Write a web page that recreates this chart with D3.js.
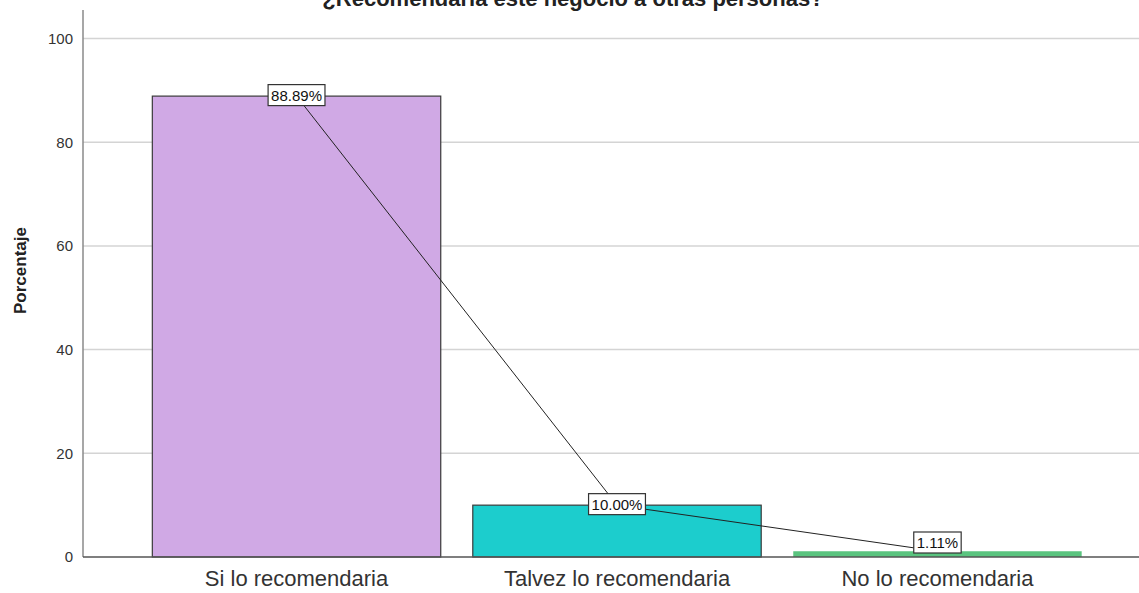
<!DOCTYPE html>
<html>
<head>
<meta charset="utf-8">
<script src="https://cdn.jsdelivr.net/npm/d3@7"></script>
<style>
  html, body { margin: 0; padding: 0; background: #fff; }
  svg { display: block; font-family: Arial, "Liberation Sans", sans-serif; }
</style>
</head>
<body>
<svg id="chart" width="1139" height="593"></svg>
<script>
// Survey answers and their share of respondents (%)
const categories = ["Si lo recomendaria", "Talvez lo recomendaria", "No lo recomendaria"];
const percentages = [88.89, 10.00, 1.11];
const barColors = ["#d0a9e5", "#1ccdcd", "#5ac47f"];
const yTicks = [0, 20, 40, 60, 80, 100];
const chartTitle = "¿Recomendaría este negocio a otras personas?";
const yTitle = "Porcentaje";

const svg = d3.select("#chart");
const plot = { left: 83, right: 1139, top: 10, bottom: 557 };

const x = d3.scaleBand()
  .domain(categories)
  .range([136.3, 1097.7])
  .paddingInner(0.1)
  .paddingOuter(0.05);

const y = d3.scaleLinear()
  .domain([0, 100])
  .range([plot.bottom, 38.5]);

// Title, sitting against the top edge of the canvas
svg.append("text")
  .attr("x", 573)
  .attr("y", 5.5)
  .attr("text-anchor", "middle")
  .attr("font-weight", "bold")
  .attr("font-size", 22)
  .attr("fill", "#222")
  .text(chartTitle);

// Horizontal gridlines
svg.append("g")
  .selectAll("line")
  .data(yTicks.filter(d => d > 0))
  .join("line")
  .attr("x1", plot.left)
  .attr("x2", plot.right)
  .attr("y1", d => y(d))
  .attr("y2", d => y(d))
  .attr("stroke", "#d4d4d4")
  .attr("stroke-width", 1.5);

// Y axis (labels only, no tick marks)
const yAxis = svg.append("g")
  .attr("transform", `translate(${plot.left},0)`)
  .call(d3.axisLeft(y).tickValues(yTicks).tickSize(0).tickPadding(10).tickFormat(d3.format("d")));
yAxis.select(".domain").remove();
yAxis.selectAll("text")
  .attr("font-size", 15)
  .attr("fill", "#333")
  .attr("font-family", "Arial, 'Liberation Sans', sans-serif");

svg.append("line")
  .attr("x1", plot.left).attr("x2", plot.left)
  .attr("y1", plot.top).attr("y2", plot.bottom)
  .attr("stroke", "#8a8a8a")
  .attr("stroke-width", 1.5);

// Y axis title
svg.append("text")
  .attr("transform", `translate(26,${(plot.top + plot.bottom) / 2 - 13}) rotate(-90)`)
  .attr("text-anchor", "middle")
  .attr("font-weight", "bold")
  .attr("font-size", 17)
  .attr("fill", "#222")
  .text(yTitle);

// Bars
svg.append("g")
  .selectAll("rect")
  .data(categories)
  .join("rect")
  .attr("x", d => x(d))
  .attr("y", (d, i) => y(percentages[i]))
  .attr("width", x.bandwidth())
  .attr("height", (d, i) => y(0) - y(percentages[i]))
  .attr("fill", (d, i) => barColors[i])
  .attr("stroke", (d, i) => percentages[i] < 3 ? "none" : "#3a3a3a")
  .attr("stroke-width", 1.2);

// X axis baseline
svg.append("line")
  .attr("x1", plot.left).attr("x2", plot.right)
  .attr("y1", plot.bottom).attr("y2", plot.bottom)
  .attr("stroke", "#555")
  .attr("stroke-width", 1.5);

// X axis category labels
const xAxis = svg.append("g")
  .attr("transform", `translate(0,${plot.bottom})`)
  .call(d3.axisBottom(x).tickSize(0).tickPadding(13));
xAxis.select(".domain").remove();
xAxis.selectAll("text")
  .attr("font-size", 22)
  .attr("fill", "#333")
  .attr("font-family", "Arial, 'Liberation Sans', sans-serif");

// Line joining the bar tops
const pts = categories.map((c, i) => [x(c) + x.bandwidth() / 2, y(percentages[i])]);
svg.append("path")
  .attr("d", d3.line()(pts))
  .attr("fill", "none")
  .attr("stroke", "#222")
  .attr("stroke-width", 1);

// Value labels in white boxes
const labelH = 21;
const labels = svg.append("g")
  .selectAll("g")
  .data(categories)
  .join("g")
  .attr("transform", (c, i) => {
    const cy = Math.min(y(percentages[i]) - 1, plot.bottom - labelH / 2 - 4);
    return `translate(${x(c) + x.bandwidth() / 2},${cy})`;
  });

labels.append("text")
  .attr("text-anchor", "middle")
  .attr("dy", "0.36em")
  .attr("font-size", 15)
  .attr("fill", "#111")
  .text((c, i) => d3.format(".2f")(percentages[i]) + "%");

labels.each(function () {
  const g = d3.select(this);
  const bb = g.select("text").node().getBBox();
  g.insert("rect", "text")
    .attr("x", bb.x - 3)
    .attr("y", -labelH / 2)
    .attr("width", bb.width + 6)
    .attr("height", labelH)
    .attr("fill", "#fff")
    .attr("stroke", "#333")
    .attr("stroke-width", 1.2);
});
</script>
</body>
</html>
